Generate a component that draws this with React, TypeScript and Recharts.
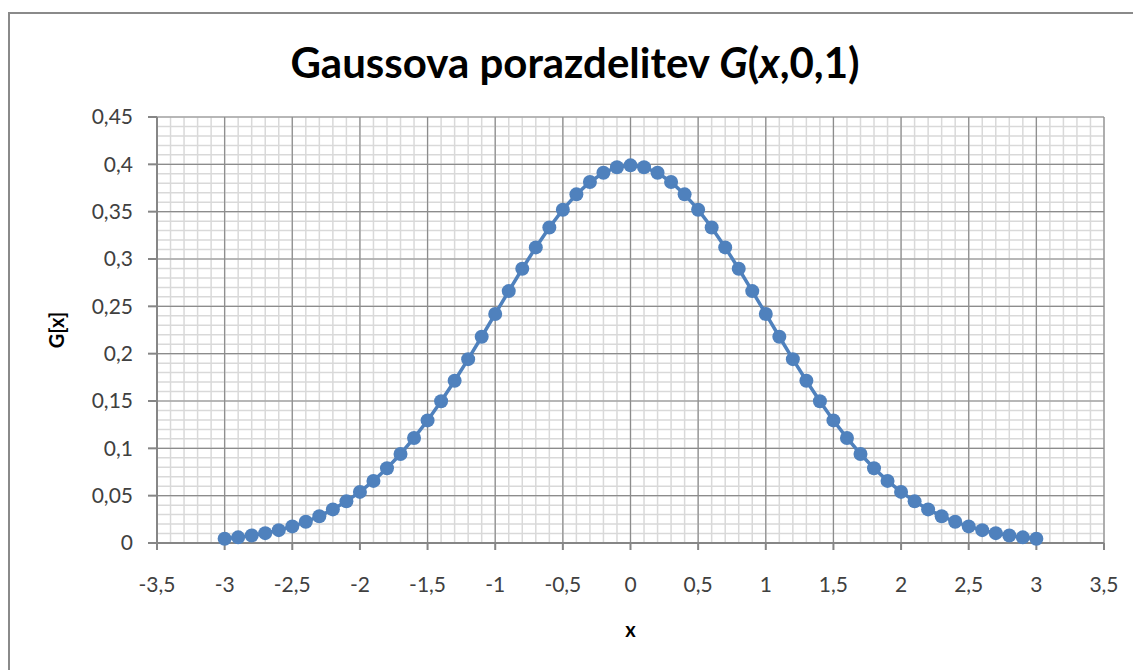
import React from 'react';
import { ScatterChart, Scatter, XAxis, YAxis, CartesianGrid } from 'recharts';

const xValues = [
  -3, -2.9, -2.8, -2.7, -2.6, -2.5, -2.4, -2.3, -2.2, -2.1,
  -2, -1.9, -1.8, -1.7, -1.6, -1.5, -1.4, -1.3, -1.2, -1.1,
  -1, -0.9, -0.8, -0.7, -0.6, -0.5, -0.4, -0.3, -0.2, -0.1,
  0, 0.1, 0.2, 0.3, 0.4, 0.5, 0.6, 0.7, 0.8, 0.9,
  1, 1.1, 1.2, 1.3, 1.4, 1.5, 1.6, 1.7, 1.8, 1.9,
  2, 2.1, 2.2, 2.3, 2.4, 2.5, 2.6, 2.7, 2.8, 2.9, 3,
];

const gValues = [
  0.004432, 0.005953, 0.007915, 0.010421, 0.013583, 0.017528, 0.022395, 0.028327, 0.035475, 0.043984,
  0.053991, 0.065616, 0.07895, 0.094049, 0.110921, 0.129518, 0.149727, 0.171369, 0.194186, 0.217852,
  0.241971, 0.266085, 0.289692, 0.312254, 0.333225, 0.352065, 0.36827, 0.381388, 0.391043, 0.396953,
  0.398942, 0.396953, 0.391043, 0.381388, 0.36827, 0.352065, 0.333225, 0.312254, 0.289692, 0.266085,
  0.241971, 0.217852, 0.194186, 0.171369, 0.149727, 0.129518, 0.110921, 0.094049, 0.07895, 0.065616,
  0.053991, 0.043984, 0.035475, 0.028327, 0.022395, 0.017528, 0.013583, 0.010421, 0.007915, 0.005953, 0.004432,
];

const xTicks = [-3.5, -3, -2.5, -2, -1.5, -1, -0.5, 0, 0.5, 1, 1.5, 2, 2.5, 3, 3.5];
const yTicks = [0, 0.05, 0.1, 0.15, 0.2, 0.25, 0.3, 0.35, 0.4, 0.45];
const X_DOMAIN: [number, number] = [-3.5, 3.5];
const Y_DOMAIN: [number, number] = [0, 0.45];

const xMinorTicks: number[] = [];
for (let i = -35; i <= 35; i++) xMinorTicks.push(i / 10);
const yMinorTicks: number[] = [];
for (let i = 0; i <= 45; i++) yMinorTicks.push(i / 100);

const data = xValues.map((x, i) => ({ x, g: gValues[i] }));

const fmt = (v: number) => String(v).replace('.', ',');

const FONT = 'Lato, "Open Sans", sans-serif';
const BLUE = '#4F81BD';

const Dot = (props: any) => {
  const { cx, cy } = props;
  if (cx == null || cy == null) return null;
  return <circle cx={cx} cy={cy} r={7} fill={BLUE} />;
};

const minorVertical = ({ offset }: any) =>
  xMinorTicks.map((v) => offset.left + ((v - X_DOMAIN[0]) / (X_DOMAIN[1] - X_DOMAIN[0])) * offset.width);
const minorHorizontal = ({ offset }: any) =>
  yMinorTicks.map((v) => offset.top + offset.height - ((v - Y_DOMAIN[0]) / (Y_DOMAIN[1] - Y_DOMAIN[0])) * offset.height);

export default function App() {
  return (
    <div style={{ position: 'absolute', left: 0, top: 0, width: 1133, height: 670, overflow: 'hidden', background: '#fff', fontFamily: FONT }}>
      <div style={{ position: 'absolute', left: 8, top: 12, width: 1300, height: 800, border: '2px solid #8a8a8a', boxSizing: 'border-box' }} />
      <div style={{ position: 'absolute', left: 0, width: 1150, top: 36, textAlign: 'center', fontSize: 42, fontWeight: 700, color: '#000', lineHeight: '52px' }}>
        Gaussova porazdelitev <i>G</i>(<i>x</i>,0,1)
      </div>
      <div style={{ position: 'absolute', left: 0, top: 0 }}>
        <ScatterChart width={1133} height={670} margin={{ top: 117, right: 29, bottom: 27, left: 40 }}>
          <CartesianGrid
            stroke="#d9d9d9"
            strokeWidth={1.5}
            verticalCoordinatesGenerator={minorVertical}
            horizontalCoordinatesGenerator={minorHorizontal}
          />
          <CartesianGrid stroke="#8c8c8c" strokeWidth={1.2} />
          <XAxis
            dataKey="x"
            type="number"
            domain={X_DOMAIN}
            ticks={xTicks}
            interval={0}
            tickFormatter={fmt}
            height={100}
            tickSize={7}
            tickMargin={27}
            axisLine={{ stroke: '#868686', strokeWidth: 2 }}
            tickLine={{ stroke: '#868686', strokeWidth: 2 }}
            tick={{ fill: '#404040', fontSize: 21, fontFamily: FONT }}
            label={{ value: 'x', position: 'insideBottom', offset: 6, style: { fontWeight: 700, fontSize: 20, fill: '#000', fontFamily: FONT } }}
          />
          <YAxis
            dataKey="g"
            type="number"
            domain={Y_DOMAIN}
            ticks={yTicks}
            interval={0}
            tickFormatter={fmt}
            width={117}
            tickSize={9}
            tickMargin={15}
            axisLine={{ stroke: '#868686', strokeWidth: 2 }}
            tickLine={{ stroke: '#868686', strokeWidth: 2 }}
            tick={{ fill: '#404040', fontSize: 21, fontFamily: FONT }}
            label={{ value: 'G[x]', angle: -90, position: 'insideLeft', offset: 17, style: { fontWeight: 700, fontSize: 20, fill: '#000', fontFamily: FONT, textAnchor: 'middle' } }}
          />
          <Scatter data={data} line={{ stroke: BLUE, strokeWidth: 3.5 }} shape={<Dot />} fill={BLUE} isAnimationActive={false} />
        </ScatterChart>
      </div>
    </div>
  );
}
